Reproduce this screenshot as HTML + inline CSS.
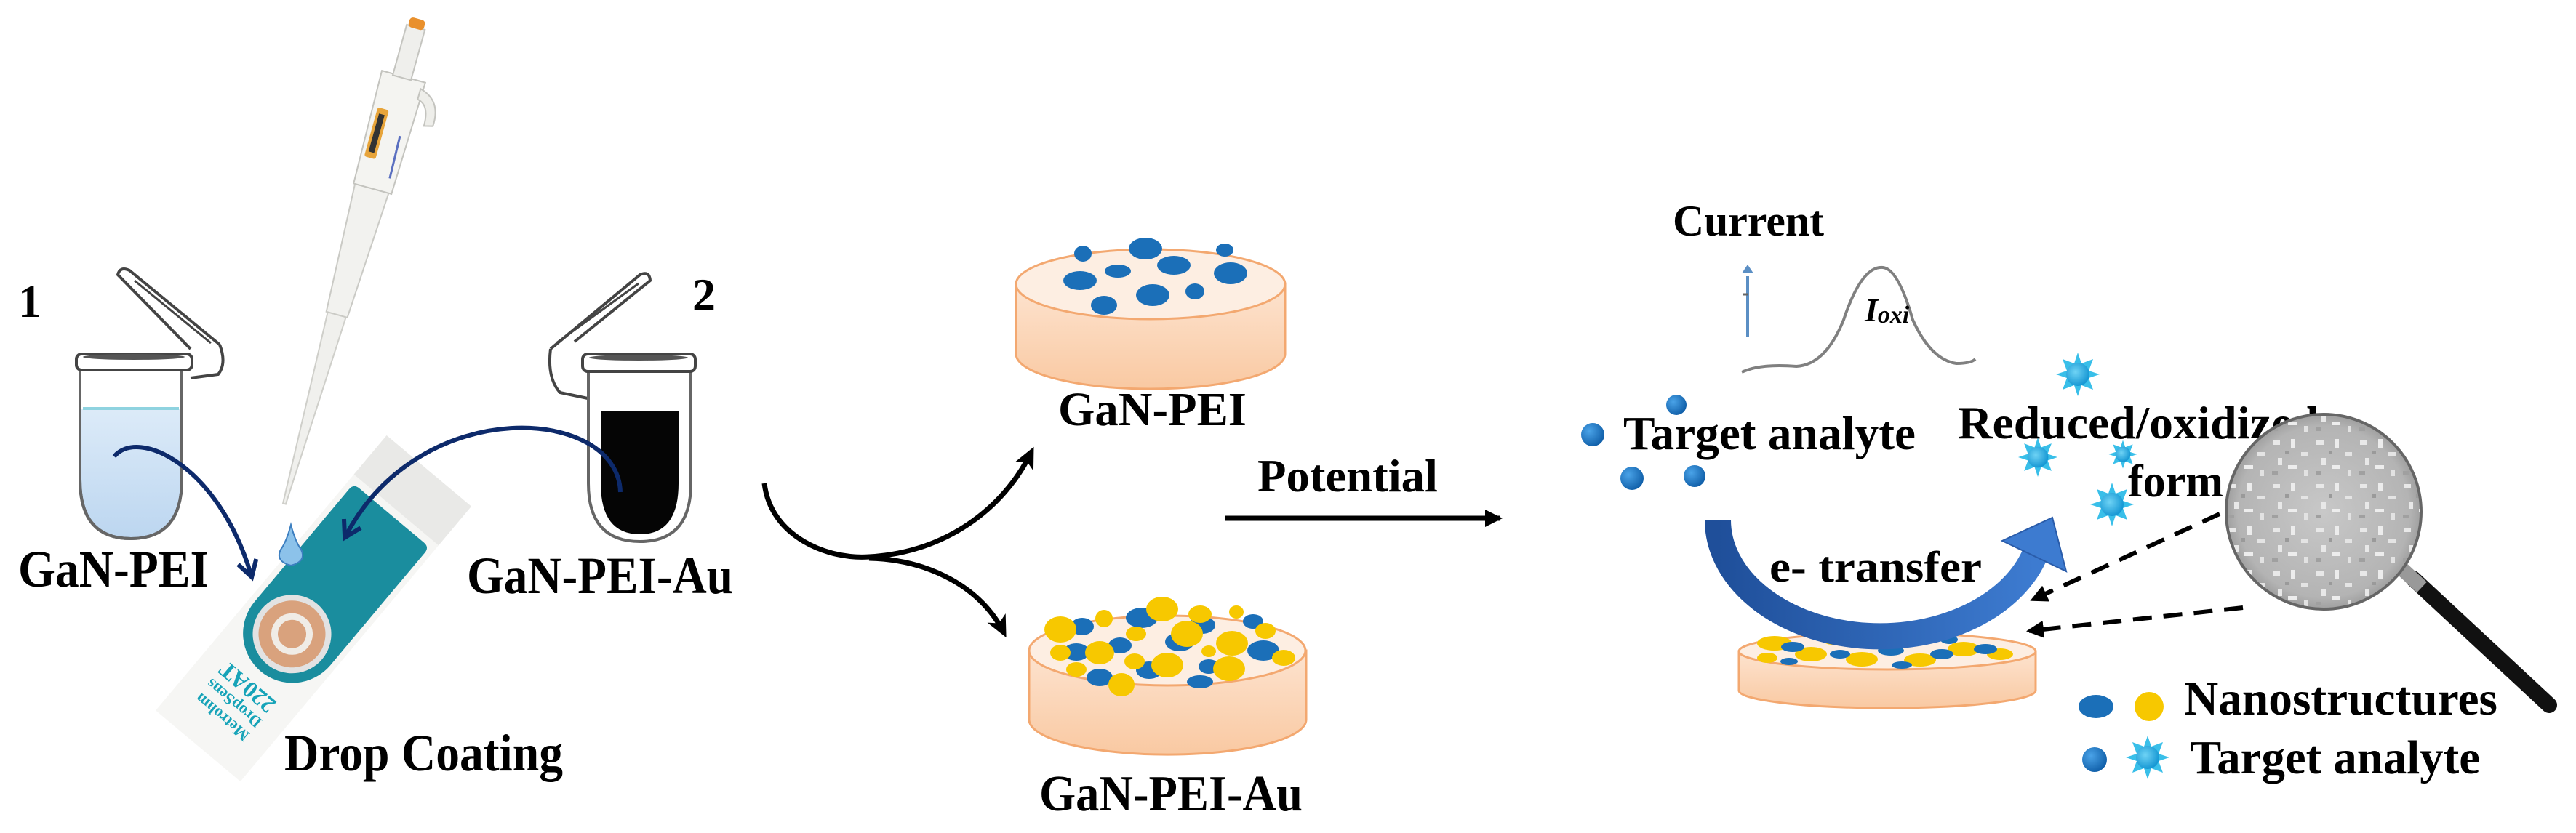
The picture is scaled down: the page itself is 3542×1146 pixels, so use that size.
<!DOCTYPE html>
<html><head><meta charset="utf-8"><style>
html,body{margin:0;padding:0;background:#fff}
svg{display:block}
text{font-family:"Liberation Serif",serif;font-weight:bold;fill:#000}
</style></head><body>
<svg width="3542" height="1146" viewBox="0 0 3542 1146" xmlns="http://www.w3.org/2000/svg">
<defs>
<marker id="ahb" markerWidth="34" markerHeight="34" refX="20" refY="17" orient="auto" markerUnits="userSpaceOnUse"><path d="M2,4 L24,17 L2,30" fill="none" stroke="#0d2a6b" stroke-width="6"/></marker>
<marker id="ahk" markerWidth="36" markerHeight="36" refX="22" refY="18" orient="auto" markerUnits="userSpaceOnUse"><path d="M0,4 L30,18 L0,32 L8,18 z" fill="#000"/></marker>
<marker id="ahd" markerWidth="28" markerHeight="28" refX="20" refY="14" orient="auto" markerUnits="userSpaceOnUse"><path d="M0,2 L24,14 L0,26 z" fill="#000"/></marker>
<linearGradient id="liq1" x1="0" y1="0" x2="0" y2="1"><stop offset="0" stop-color="#e6f1fb"/><stop offset="1" stop-color="#bcd6f0"/></linearGradient>
<linearGradient id="disk" x1="0" y1="0" x2="0" y2="1"><stop offset="0" stop-color="#fde3cf"/><stop offset="1" stop-color="#f9c9a2"/></linearGradient>
<linearGradient id="barr" x1="0" y1="0" x2="1" y2="0"><stop offset="0" stop-color="#1f4f9a"/><stop offset="1" stop-color="#3d7bd0"/></linearGradient>
<radialGradient id="lens" cx="0.5" cy="0.5" r="0.55"><stop offset="0" stop-color="#c8c8c8"/><stop offset="0.8" stop-color="#b4b4b4"/><stop offset="1" stop-color="#8e8e8e"/></radialGradient>
<radialGradient id="bdot" cx="0.35" cy="0.35" r="0.7"><stop offset="0" stop-color="#4aa3e8"/><stop offset="1" stop-color="#0f5ea8"/></radialGradient>
<radialGradient id="sdot" cx="0.4" cy="0.4" r="0.6"><stop offset="0" stop-color="#6fd3f5"/><stop offset="1" stop-color="#1798d4"/></radialGradient>
<g id="star"><path d="M0,-30 L5,-15 L21,-21 L15,-5 L30,0 L15,5 L21,21 L5,15 L0,30 L-5,15 L-21,21 L-15,5 L-30,0 L-15,-5 L-21,-21 L-5,-15 z" fill="#39bfe9"/><circle r="16" fill="url(#sdot)"/></g>
<pattern id="speck" width="60" height="60" patternUnits="userSpaceOnUse">
<rect width="60" height="60" fill="none"/>
<rect x="5" y="6" width="10" height="6" fill="#e8e8e8"/><rect x="30" y="4" width="6" height="12" fill="#ececec"/>
<rect x="44" y="22" width="10" height="5" fill="#e4e4e4"/><rect x="12" y="30" width="6" height="10" fill="#e8e8e8"/>
<rect x="26" y="40" width="12" height="5" fill="#ededed"/><rect x="48" y="46" width="5" height="9" fill="#e2e2e2"/>
<rect x="22" y="20" width="5" height="5" fill="#9a9a9a"/><rect x="4" y="48" width="8" height="5" fill="#a0a0a0"/>
</pattern>
</defs>

<!-- ===== LEFT PANEL ===== -->
<text x="25" y="436" font-size="64">1</text>
<text x="952" y="427" font-size="64">2</text>

<!-- Tube 1 -->
<g stroke="#444" stroke-width="4" fill="none">
<path d="M302,474 L178,372 Q165,366 162,378 L262,480"/>
<path d="M185,386 L290,472" stroke-width="3"/>
<path d="M302,474 Q312,500 300,515 L262,520"/>
</g>
<path d="M110,508 L110,660 Q110,741 180,741 Q250,741 250,660 L250,508 Z" fill="url(#liq1)" stroke="#666" stroke-width="4"/>
<rect x="112" y="508" width="136" height="54" fill="#fff"/>
<path d="M110,508 L110,660 Q110,741 180,741 Q250,741 250,660 L250,508" fill="none" stroke="#666" stroke-width="4"/>
<line x1="114" y1="562" x2="246" y2="562" stroke="#8fd3e0" stroke-width="4"/>
<rect x="105" y="487" width="159" height="22" rx="7" fill="#fff" stroke="#444" stroke-width="4"/>
<ellipse cx="184" cy="491" rx="70" ry="4" fill="#555"/>

<!-- Tube 2 -->
<g stroke="#444" stroke-width="4" fill="none">
<path d="M757,480 L880,378 Q893,372 894,386 L790,470"/>
<path d="M765,472 L878,390" stroke-width="3"/>
<path d="M757,480 Q752,520 770,540 L808,548"/>
</g>
<path d="M809,510 L809,665 Q809,745 880,745 Q950,745 950,665 L950,510 Z" fill="#fff" stroke="#666" stroke-width="4"/>
<path d="M826,566 L933,566 L933,665 Q933,735 880,735 Q826,735 826,665 Z" fill="#050505"/>
<rect x="801" y="487" width="155" height="24" rx="7" fill="#fff" stroke="#444" stroke-width="4"/>
<ellipse cx="878" cy="492" rx="68" ry="4" fill="#555"/>

<!-- Pipette -->
<g transform="translate(391,693) rotate(15.5)">
<path d="M-2,0 L2,0 L13,-270 L-13,-270 Z" fill="#f0f0ed" stroke="#cfcfca" stroke-width="2"/>
<path d="M-15,-270 L15,-270 L24,-450 L-24,-450 Z" fill="#f2f2ef" stroke="#cacac5" stroke-width="2"/>
<path d="M-26,-450 L28,-450 L32,-610 L-30,-610 Z" fill="#f4f4f1" stroke="#c4c4bf" stroke-width="2"/>
<rect x="-22" y="-560" width="16" height="70" rx="3" fill="#e7a43a"/>
<rect x="-18" y="-552" width="8" height="54" fill="#333"/>
<line x1="18" y1="-530" x2="20" y2="-470" stroke="#5a6fc0" stroke-width="3"/>
<path d="M28,-600 Q60,-592 58,-555 L46,-552 Q46,-582 28,-585 Z" fill="#eeeeea" stroke="#c4c4bf" stroke-width="2"/>
<rect x="-14" y="-680" width="26" height="72" fill="#efefec" stroke="#c4c4bf" stroke-width="2"/>
<rect x="-12" y="-692" width="22" height="14" rx="5" fill="#e9902c"/>
</g>

<!-- Electrode strip -->
<g transform="translate(442,824) rotate(-50)">
<rect x="-264" y="-76" width="494" height="152" fill="#f6f6f4"/>
<rect x="160" y="-76" width="70" height="152" fill="#e9e9e7"/>
<path d="M-62,-68 L140,-68 Q150,-68 150,-58 L150,58 Q150,68 140,68 L-62,68 A68,68 0 0,1 -62,-68 Z" fill="#1a8d9e"/>
<circle cx="-63" cy="0" r="54" fill="#e2e2e2"/>
<circle cx="-63" cy="0" r="46" fill="#d9a27d"/>
<circle cx="-63" cy="0" r="24" fill="none" stroke="#f0ece6" stroke-width="9"/>
<g transform="rotate(-90)">
<text x="0" y="-205" font-size="22" text-anchor="middle" style="fill:#16a3b8">Metrohm</text>
<text x="0" y="-180" font-size="22" text-anchor="middle" style="fill:#16a3b8">DropSens</text>
<text x="0" y="-148" font-size="32" text-anchor="middle" style="fill:#16a3b8">220AT</text>
</g>
</g>
<!-- Drop -->
<path d="M400,722 Q394,745 386,756 Q378,772 400,778 Q422,772 414,756 Q406,745 400,722 Z" fill="#8cc2ea" stroke="#3d7fc0" stroke-width="2"/>

<!-- Blue arrows -->
<path d="M157,628 C190,588 300,640 345,790" fill="none" stroke="#0d2a6b" stroke-width="6" marker-end="url(#ahb)"/>
<path d="M853,677 C850,560 580,540 476,736" fill="none" stroke="#0d2a6b" stroke-width="6" marker-end="url(#ahb)"/>

<text x="25" y="807" font-size="72" textLength="262" lengthAdjust="spacingAndGlyphs">GaN-PEI</text>
<text x="642" y="816" font-size="72" textLength="366" lengthAdjust="spacingAndGlyphs">GaN-PEI-Au</text>
<text x="391" y="1060" font-size="72" textLength="383" lengthAdjust="spacingAndGlyphs">Drop Coating</text>

<!-- ===== MIDDLE ===== -->
<path d="M1051,665 C1060,740 1140,770 1195,766 C1300,760 1380,700 1418,622" fill="none" stroke="#000" stroke-width="7" marker-end="url(#ahk)"/>
<path d="M1195,768 C1280,770 1350,810 1380,870" fill="none" stroke="#000" stroke-width="7" marker-end="url(#ahk)"/>

<path d="M1397,391 L1397,487 A185,48 0 0,0 1767,487 L1767,391 Z" fill="url(#disk)" stroke="#f3a870" stroke-width="3"/>
<ellipse cx="1582" cy="391" rx="185" ry="48" fill="#fdeee2" stroke="#f3a870" stroke-width="3"/>
<g fill="#1b6fb8">
<ellipse cx="1489" cy="349" rx="12" ry="11"/><ellipse cx="1575" cy="342" rx="23" ry="15"/><ellipse cx="1684" cy="344" rx="12" ry="9"/>
<ellipse cx="1485" cy="386" rx="23" ry="13"/><ellipse cx="1537" cy="373" rx="18" ry="9"/><ellipse cx="1614" cy="365" rx="23" ry="13"/>
<ellipse cx="1692" cy="376" rx="23" ry="15"/><ellipse cx="1585" cy="406" rx="23" ry="15"/><ellipse cx="1643" cy="401" rx="13" ry="11"/>
<ellipse cx="1518" cy="420" rx="18" ry="13"/>
</g>
<text x="1455" y="585" font-size="66" textLength="259" lengthAdjust="spacingAndGlyphs">GaN-PEI</text>

<path d="M1415,895 L1415,990 A190,48 0 0,0 1796,990 L1796,895 Z" fill="url(#disk)" stroke="#f3a870" stroke-width="3"/>
<ellipse cx="1605" cy="895" rx="190" ry="48" fill="#fdeee2" stroke="#f3a870" stroke-width="3"/>
<g fill="#1b6fb8">
<ellipse cx="1488" cy="862" rx="16" ry="12"/><ellipse cx="1570" cy="850" rx="22" ry="14"/><ellipse cx="1653" cy="860" rx="18" ry="12"/>
<ellipse cx="1723" cy="855" rx="14" ry="10"/><ellipse cx="1480" cy="897" rx="18" ry="12"/><ellipse cx="1540" cy="888" rx="16" ry="11"/>
<ellipse cx="1622" cy="883" rx="20" ry="13"/><ellipse cx="1737" cy="895" rx="22" ry="14"/><ellipse cx="1580" cy="922" rx="18" ry="12"/>
<ellipse cx="1662" cy="917" rx="14" ry="10"/><ellipse cx="1512" cy="932" rx="18" ry="12"/><ellipse cx="1650" cy="938" rx="18" ry="9"/>
</g>
<g fill="#f7c800">
<ellipse cx="1458" cy="866" rx="22" ry="18"/><ellipse cx="1518" cy="851" rx="12" ry="12"/><ellipse cx="1598" cy="838" rx="22" ry="17"/>
<ellipse cx="1650" cy="845" rx="16" ry="12"/><ellipse cx="1700" cy="842" rx="10" ry="9"/><ellipse cx="1632" cy="872" rx="22" ry="18"/>
<ellipse cx="1694" cy="885" rx="22" ry="17"/><ellipse cx="1740" cy="868" rx="14" ry="11"/><ellipse cx="1562" cy="872" rx="14" ry="10"/>
<ellipse cx="1512" cy="898" rx="20" ry="16"/><ellipse cx="1458" cy="898" rx="14" ry="11"/><ellipse cx="1765" cy="905" rx="16" ry="11"/>
<ellipse cx="1605" cy="915" rx="22" ry="17"/><ellipse cx="1560" cy="910" rx="14" ry="11"/><ellipse cx="1690" cy="920" rx="22" ry="17"/>
<ellipse cx="1542" cy="942" rx="18" ry="16"/><ellipse cx="1480" cy="921" rx="14" ry="10"/><ellipse cx="1662" cy="896" rx="10" ry="8"/>
</g>
<text x="1429" y="1115" font-size="70" textLength="362" lengthAdjust="spacingAndGlyphs">GaN-PEI-Au</text>

<text x="1729" y="676" font-size="64" textLength="248" lengthAdjust="spacingAndGlyphs">Potential</text>
<line x1="1685" y1="713" x2="2062" y2="713" stroke="#000" stroke-width="7" marker-end="url(#ahd)"/>

<!-- ===== RIGHT ===== -->
<text x="2300" y="324" font-size="60" textLength="208" lengthAdjust="spacingAndGlyphs">Current</text>
<line x1="2403" y1="463" x2="2403" y2="380" stroke="#5b8fc4" stroke-width="4"/>
<path d="M2395,376 L2403,364 L2411,376 Z" fill="#5b8fc4"/>
<line x1="2396" y1="405" x2="2404" y2="405" stroke="#666" stroke-width="3"/>
<path d="M2395,512 Q2420,500 2470,504 Q2510,502 2535,440 Q2560,365 2589,368 Q2610,370 2630,440 Q2655,495 2690,500 Q2710,500 2716,494" fill="none" stroke="#808080" stroke-width="4"/>
<text x="2564" y="442" font-size="46" font-style="italic">I<tspan font-size="34" dy="2">oxi</tspan></text>

<g fill="url(#bdot)">
<circle cx="2190" cy="598" r="16"/><circle cx="2244" cy="658" r="16"/><circle cx="2305" cy="557" r="14"/><circle cx="2330" cy="655" r="15"/>
</g>
<text x="2232" y="618" font-size="66" textLength="402" lengthAdjust="spacingAndGlyphs">Target analyte</text>

<use href="#star" x="2857" y="515"/>
<g transform="translate(2802,629) scale(0.9)"><use href="#star"/></g>
<g transform="translate(2919,625) scale(0.65)"><use href="#star"/></g>
<use href="#star" x="2904" y="694"/>
<text x="2692" y="603" font-size="64" textLength="497" lengthAdjust="spacingAndGlyphs">Reduced/oxidized</text>
<text x="2926" y="683" font-size="64" textLength="131" lengthAdjust="spacingAndGlyphs">form</text>

<path d="M2391,896 L2391,950 A204,24 0 0,0 2799,950 L2799,896 Z" fill="url(#disk)" stroke="#f3a870" stroke-width="3"/>
<ellipse cx="2595" cy="896" rx="204" ry="25" fill="#fdeee2" stroke="#f3a870" stroke-width="3"/>
<g fill="#f7c800">
<ellipse cx="2440" cy="885" rx="24" ry="10"/><ellipse cx="2490" cy="900" rx="22" ry="10"/><ellipse cx="2560" cy="907" rx="22" ry="10"/>
<ellipse cx="2640" cy="908" rx="22" ry="9"/><ellipse cx="2700" cy="893" rx="22" ry="10"/><ellipse cx="2750" cy="900" rx="18" ry="8"/>
<ellipse cx="2600" cy="878" rx="24" ry="10"/><ellipse cx="2430" cy="905" rx="14" ry="7"/><ellipse cx="2520" cy="880" rx="14" ry="7"/>
</g>
<g fill="#1b6fb8">
<ellipse cx="2465" cy="890" rx="16" ry="7"/><ellipse cx="2530" cy="900" rx="14" ry="6"/><ellipse cx="2600" cy="895" rx="18" ry="7"/>
<ellipse cx="2670" cy="900" rx="16" ry="7"/><ellipse cx="2730" cy="893" rx="16" ry="7"/><ellipse cx="2460" cy="910" rx="12" ry="5"/>
<ellipse cx="2615" cy="915" rx="14" ry="5"/><ellipse cx="2680" cy="880" rx="12" ry="6"/>
</g>

<path d="M2362,715 A223,160 0 0,0 2797,765" fill="none" stroke="url(#barr)" stroke-width="36"/>
<path d="M2753,744 L2841,786 L2822,712 Z" fill="#3d7bd0" stroke="#2a5caa" stroke-width="2"/>
<text x="2433" y="800" font-size="60" textLength="292" lengthAdjust="spacingAndGlyphs">e- transfer</text>

<line x1="3052" y1="707" x2="2795" y2="825" stroke="#000" stroke-width="6" stroke-dasharray="26,16" marker-end="url(#ahd)"/>
<line x1="3084" y1="836" x2="2790" y2="868" stroke="#000" stroke-width="6" stroke-dasharray="26,16" marker-end="url(#ahd)"/>

<line x1="3318" y1="796" x2="3505" y2="970" stroke="#111" stroke-width="22" stroke-linecap="round"/>
<line x1="3300" y1="780" x2="3330" y2="808" stroke="#999" stroke-width="20"/>
<circle cx="3195" cy="704" r="134" fill="url(#lens)"/>
<circle cx="3195" cy="704" r="134" fill="url(#speck)"/>
<circle cx="3195" cy="704" r="134" fill="none" stroke="#666" stroke-width="4"/>

<ellipse cx="2882" cy="972" rx="24" ry="16" fill="#1b6fb8"/>
<circle cx="2955" cy="972" r="20" fill="#f7c800"/>
<circle cx="2880" cy="1045" r="17" fill="url(#bdot)"/>
<use href="#star" x="2953" y="1042"/>
<text x="3003" y="983" font-size="66" textLength="431" lengthAdjust="spacingAndGlyphs">Nanostructures</text>
<text x="3011" y="1064" font-size="66" textLength="399" lengthAdjust="spacingAndGlyphs">Target analyte</text>
</svg>
</body></html>
